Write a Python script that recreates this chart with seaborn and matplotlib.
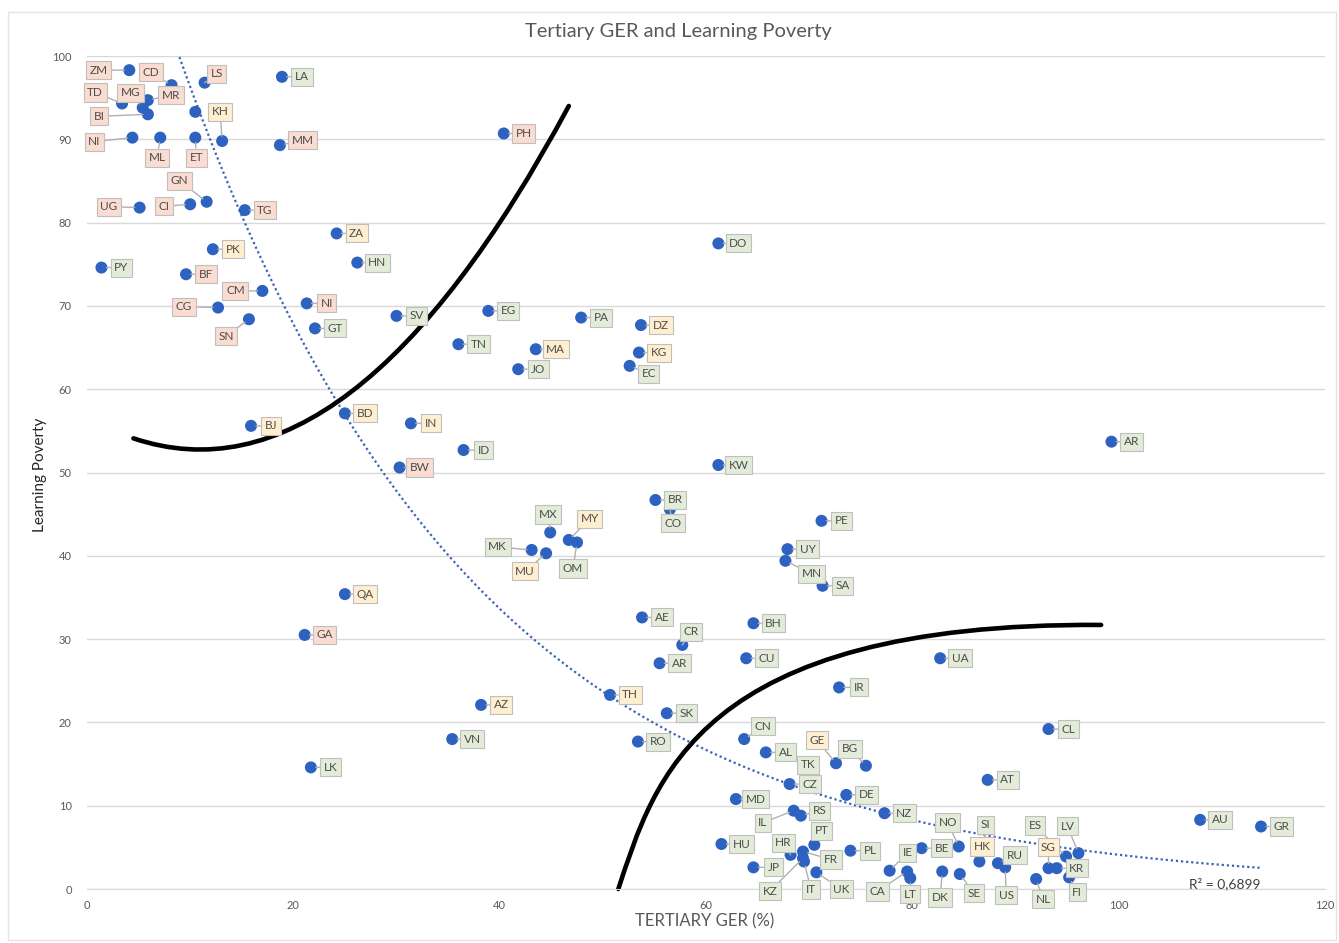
import numpy as np
import pandas as pd
import matplotlib
matplotlib.use("Agg")
import matplotlib.pyplot as plt
from matplotlib.path import Path
from matplotlib.patches import PathPatch, Rectangle
import seaborn as sns

# ---- data -----------------------------------------------------------------
codes = ["ZM", "CD", "LS", "LA", "TD", "MG", "MR", "BI", "", "KH",
         "NI", "ML", "ET", "MM", "GN", "CI", "UG", "TG", "ZA", "PK",
         "PY", "HN", "BF", "CM", "CG", "SN", "NI", "GT", "BD", "BJ",
         "PH", "SV", "EG", "PA", "DZ", "TN", "MA", "KG", "JO", "EC",
         "IN", "ID", "BW", "DO", "AR", "KW", "BR", "CO", "PE", "MX",
         "MY", "OM", "MK", "MU", "UY", "MN", "SA", "AE", "BH", "CR",
         "AR", "CU", "IR", "UA", "QA", "GA", "AZ", "TH", "SK", "VN",
         "RO", "LK", "CN", "AL", "GE", "BG", "TK", "CZ", "DE", "MD",
         "RS", "IL", "NZ", "PT", "HU", "HR", "FR", "PL", "IT", "KZ",
         "UK", "JP", "IE", "CA", "LT", "BE", "DK", "CL", "AT", "NO",
         "SI", "HK", "RU", "US", "SE", "NL", "ES", "LV", "SG", "KR",
         "FI", "AU", "GR"]

tertiary_ger = [4.1, 8.2, 11.4, 18.9, 3.4, 5.4, 5.9, 5.9, 10.5, 13.1,
                4.4, 7.1, 10.5, 18.7, 11.6, 10.0, 5.1, 15.3, 24.2, 12.2,
                1.4, 26.2, 9.6, 17.0, 12.7, 15.7, 21.3, 22.1, 25.0, 15.9,
                40.4, 30.0, 38.9, 47.9, 53.7, 36.0, 43.5, 53.5, 41.8, 52.6,
                31.4, 36.5, 30.3, 61.2, 99.3, 61.2, 55.1, 56.5, 71.2, 44.9,
                46.7, 47.5, 43.1, 44.5, 67.9, 67.7, 71.3, 53.8, 64.6, 57.7,
                55.5, 63.9, 72.9, 82.7, 25.0, 21.1, 38.2, 50.7, 56.2, 35.4,
                53.4, 21.7, 63.7, 65.8, 72.6, 75.5, 69.9, 68.1, 73.6, 62.9,
                69.2, 68.5, 77.3, 70.5, 61.5, 68.2, 69.4, 74.0, 69.5, 69.4,
                70.7, 64.6, 77.8, 79.5, 79.8, 80.9, 82.9, 93.2, 87.3, 84.5,
                87.0, 86.5, 88.3, 89.0, 84.6, 92.0, 94.9, 96.1, 93.2, 94.0,
                95.2, 107.9, 113.8]

learning_poverty = [98.3, 96.5, 96.8, 97.5, 94.3, 93.8, 94.7, 93.0, 93.3, 89.8,
                    90.2, 90.2, 90.2, 89.3, 82.5, 82.2, 81.8, 81.5, 78.7, 76.8,
                    74.6, 75.2, 73.8, 71.8, 69.8, 68.4, 70.3, 67.3, 57.1, 55.6,
                    90.7, 68.8, 69.4, 68.6, 67.7, 65.4, 64.8, 64.4, 62.4, 62.8,
                    55.9, 52.7, 50.6, 77.5, 53.7, 50.9, 46.7, 45.6, 44.2, 42.8,
                    41.9, 41.6, 40.7, 40.3, 40.8, 39.4, 36.4, 32.6, 31.9, 29.3,
                    27.1, 27.7, 24.2, 27.7, 35.4, 30.5, 22.1, 23.3, 21.1, 18.0,
                    17.7, 14.6, 18.0, 16.4, 15.1, 14.8, 13.7, 12.6, 11.3, 10.8,
                    8.8, 9.4, 9.1, 5.3, 5.4, 4.1, 4.5, 4.6, 3.3, 3.7,
                    2.0, 2.6, 2.2, 2.1, 1.3, 4.9, 2.1, 19.2, 13.1, 5.1,
                    5.2, 3.3, 3.1, 2.6, 1.8, 1.2, 3.9, 4.3, 2.5, 2.5,
                    1.4, 8.3, 7.5]

low_group = ["ZM", "CD", "LS", "TD", "MG", "MR", "BI", "NI", "ML", "ET", "MM",
             "GN", "CI", "UG", "TG", "BF", "CM", "CG", "SN", "NI2", "PH",
             "BW", "GA"]
mid_group = ["KH", "ZA", "PK", "BD", "BJ", "DZ", "MA", "KG", "IN", "MY",
             "MU", "TH", "QA", "AZ", "GE", "HK", "SG"]

r2_label = "R² = 0,6899"

# hand-drawn arcs (control points in data units)
upper_arc = [(4.5, 54.1), (25.6, 45.3), (46.7, 94.0)]
lower_arc = [(51.5, 0.0), (55.0, 13.0), (59.0, 32.0), (98.3, 31.7)]

# callout offsets in pixels (right, down); other labels sit just right of their point
label_offsets = {
    "ZM": (-31, 0), "CD": (-21, -13), "LS": (12, -9), "TD": (-27, -11),
    "MG": (-12, -15), "MR": (23, -5), "BI": (-49, 2), "KH": (-2, -29),
    "NI": (-38, 4), "ML": (-3, 20), "ET": (1, 20), "MM": (23, -5),
    "GN": (-27, -21), "CI": (-26, 2), "UG": (-31, -1), "CM": (-27, 0),
    "CG": (-34, -1), "SN": (-23, 17), "EC": (19, 8), "CO": (3, 14),
    "MX": (-2, -18), "MY": (21, -21), "OM": (-4, 26), "MK": (-34, -3),
    "MU": (-21, 18), "MN": (26, 13), "CR": (9, -13), "CN": (19, -13),
    "GE": (-19, -23), "BG": (-16, -17), "TK": (0, -10), "RS": (19, -5),
    "IL": (-31, 12), "PT": (7, -14), "HR": (-7, -12), "FR": (28, 8),
    "IT": (7, 28), "KZ": (-33, 33), "UK": (25, 17), "IE": (18, -18),
    "CA": (-30, 20), "LT": (0, 16), "DK": (-2, 26), "NO": (-11, -24),
    "SI": (1, -21), "HK": (3, -15), "RU": (17, -8), "US": (1, 28),
    "SE": (14, 19), "NL": (7, 20), "ES": (-31, -31), "LV": (-11, -27),
    "SG": (0, -21), "FI": (8, 15),
}

# ---- frame ----------------------------------------------------------------
df = pd.DataFrame({"code": codes, "ger": tertiary_ger, "lp": learning_poverty})
seen = {}
keys = []
for c in codes:
    seen[c] = seen.get(c, 0) + 1
    keys.append(c if seen[c] == 1 else f"{c}{seen[c]}")
df["key"] = keys

sns.set_style("white")
plt.rcParams["font.family"] = ["Lato", "DejaVu Sans"]

W, H = 1339, 943
fig = plt.figure(figsize=(W / 100, H / 100), dpi=100)
fig.patch.set_facecolor("white")
fig.patches.append(Rectangle((8 / W, 3 / H), 1328 / W, 928 / H,
                             transform=fig.transFigure, fill=False,
                             ec="#E3E3E3", lw=1.0))

ax = fig.add_axes([87 / W, 1 - 889 / H, (1325 - 87) / W, (889 - 56) / H])
ax.set_xlim(0, 120)
ax.set_ylim(0, 100)
ax.set_xticks(np.arange(0, 121, 20))
ax.set_yticks(np.arange(0, 101, 10))
ax.yaxis.grid(True, color="#D9D9D9", lw=1.0)
ax.xaxis.grid(False)
for s in ax.spines.values():
    s.set_visible(False)
ax.spines["bottom"].set_visible(True)
ax.spines["bottom"].set_color("#D9D9D9")
ax.tick_params(axis="both", length=0, labelsize=8, labelcolor="#595959")
ax.tick_params(axis="y", pad=11)
ax.tick_params(axis="x", pad=8)

# exponential trendline fitted on the points
b, log_a = np.polyfit(df["ger"], np.log(df["lp"]), 1)
xs = np.linspace(df["ger"].min(), df["ger"].max(), 300)
ax.plot(xs, np.exp(log_a + b * xs), ls=(0, (1, 1.3)), color="#3A64B8",
        lw=1.6, zorder=2)

# arcs
ax.add_patch(PathPatch(Path(upper_arc, [Path.MOVETO, Path.CURVE3, Path.CURVE3]),
                       fill=False, ec="black", lw=3.3, zorder=2.5,
                       capstyle="round"))
ax.add_patch(PathPatch(Path(lower_arc, [Path.MOVETO, Path.CURVE4, Path.CURVE4,
                                        Path.CURVE4]),
                       fill=False, ec="black", lw=3.3, zorder=2.5,
                       capstyle="round", clip_on=False))

# points
sns.scatterplot(data=df, x="ger", y="lp", ax=ax, s=75, color="#2E62C0",
                edgecolor="none", zorder=3, legend=False)
ax.set_xlabel("")
ax.set_ylabel("")

face = {"low": "#FADCD0", "mid": "#FFEFD0", "high": "#E3EBD9"}
for _, r in df.iterrows():
    if not r["code"]:
        continue
    grp = "low" if r["key"] in low_group else ("mid" if r["key"] in mid_group else "high")
    dx, dy = label_offsets.get(r["key"], (20, 0))
    ax.annotate(r["code"], xy=(r["ger"], r["lp"]),
                xytext=(dx * 0.72, -dy * 0.72), textcoords="offset points",
                ha="center", va="center", fontsize=8.5, color="#4D4D4D",
                bbox=dict(boxstyle="square,pad=0.3", fc=face[grp],
                          ec="#BFBFBF", lw=0.8),
                arrowprops=dict(arrowstyle="-", color="#B0B0B0", lw=1.0,
                                shrinkA=0, shrinkB=3.5),
                zorder=4)

ax.text(110.3, 0.6, r2_label, ha="center", va="center", fontsize=10,
        color="#404040", zorder=5)

fig.text(678 / W, 1 - 32 / H, "Tertiary GER and Learning Poverty",
         ha="center", va="center", fontsize=14.5, color="#595959")
fig.text(705 / W, 1 - 921 / H, "TERTIARY GER (%)", ha="center",
         va="center", fontsize=12, color="#595959")
fig.text(40 / W, 1 - 475 / H, "Learning Poverty", ha="center", va="center",
         rotation=90, fontsize=11, color="#262626")

fig.savefig("out.png", dpi=100, facecolor="white")
